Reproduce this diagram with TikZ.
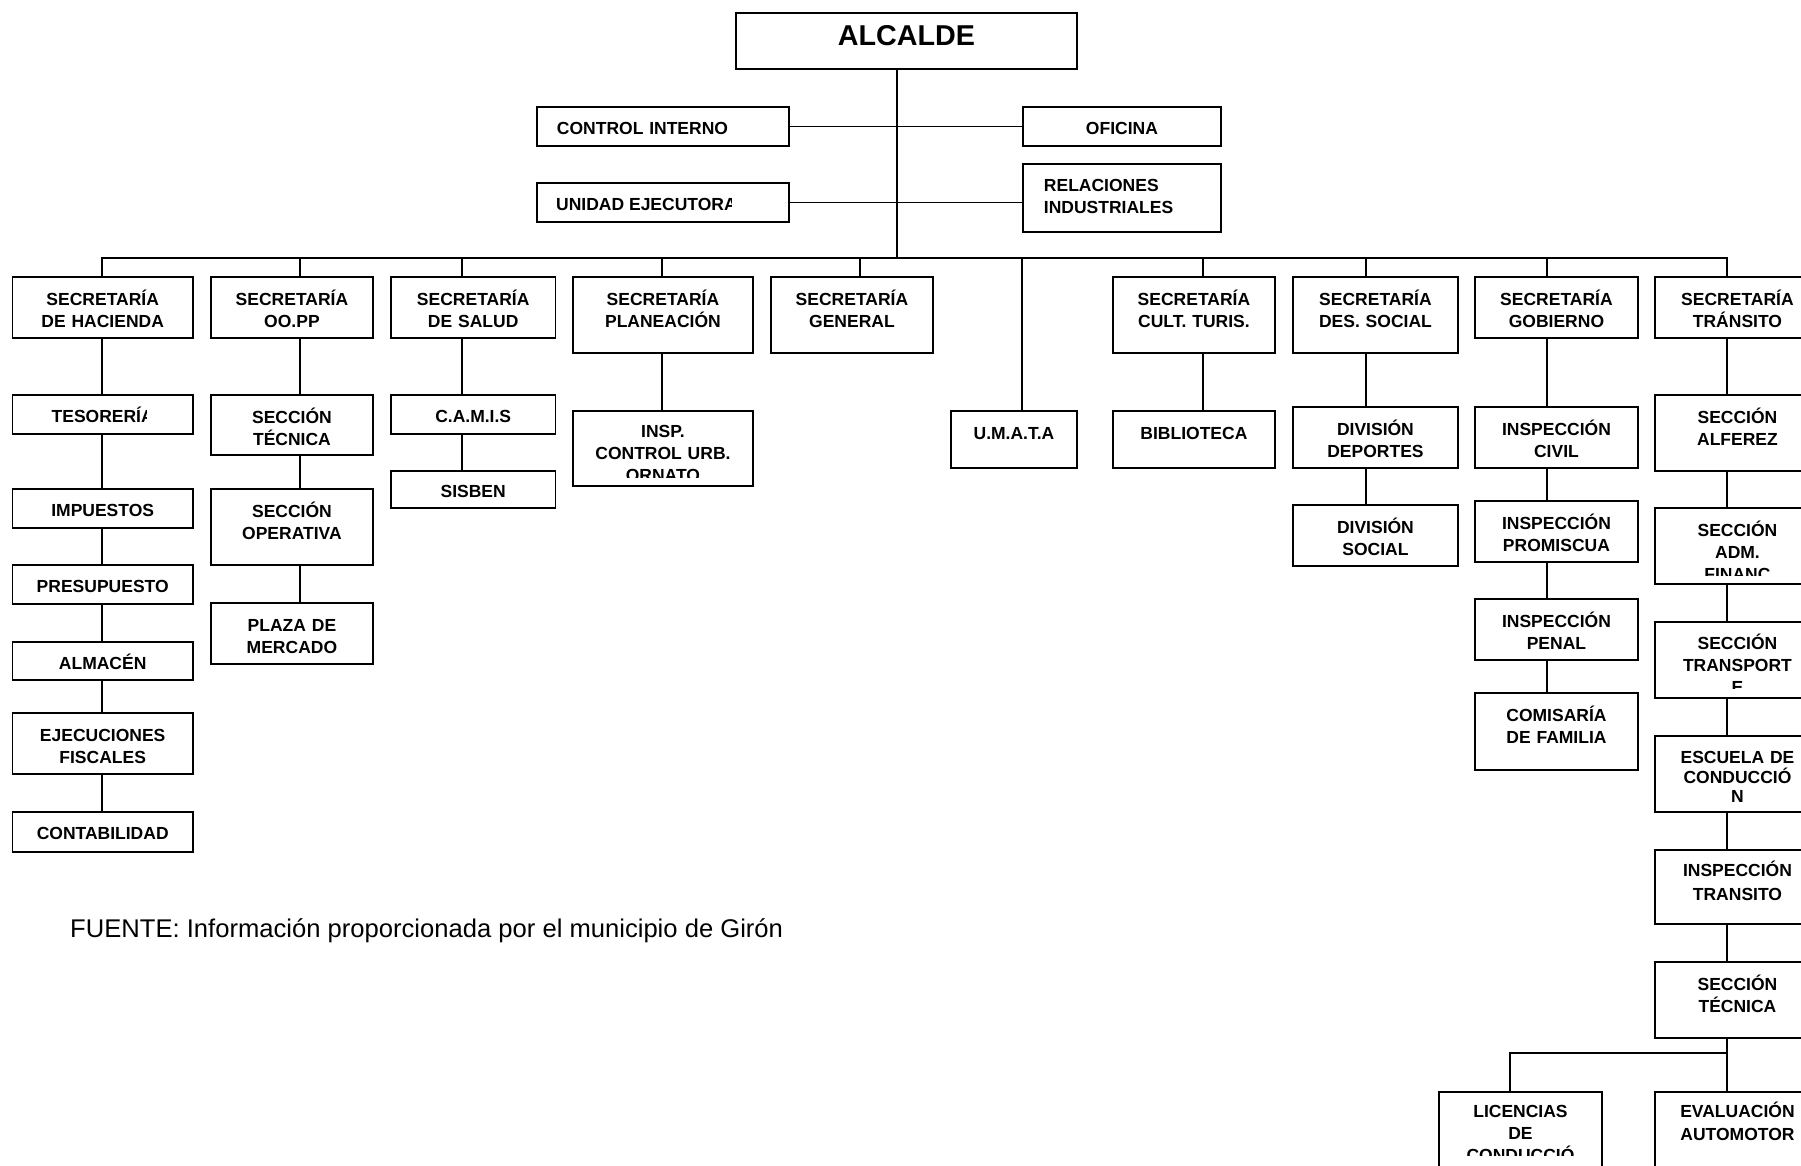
\documentclass[tikz,border=0pt]{standalone}
\usepackage{fontspec}
\setmainfont{Liberation Sans}
\usepackage{xcolor}
\usepackage{tikz}
\definecolor{orgInk}{HTML}{000000}
\definecolor{orgPaper}{HTML}{FFFFFF}
\tikzset{
  org box/.style={draw=orgInk,line width=1.9pt,fill=orgPaper,anchor=north west,inner sep=0pt,
    align=center,text height=29pt,font=\fontsize{17.5}{22}\selectfont\bfseries},
  org text/.style={anchor=north,inner sep=0pt,align=center,text height=29pt,
    font=\fontsize{17.5}{22}\selectfont\bfseries},
  org line/.style={draw=orgInk,line width=1.6pt}
}

\begin{document}
\begin{tikzpicture}[x=1pt,y=-1pt]
\path[use as bounding box,fill=orgPaper] (0,0) rectangle (1801,1166);
% alcalde and staff offices
\node[org box,text width=341pt,text height=33pt,text depth=23pt,font=\fontsize{28.7}{32}\selectfont\bfseries] (alcalde) at (735,12) {ALCALDE};
\node[org box,align=left,inner xsep=20pt,text width=212pt,text height=28pt,text depth=11pt] (control) at (536,106) {CONTROL INTERNO};
\node[org box,text width=252pt,text height=28pt,text depth=11pt] (unidad) at (536,182) {};
\begin{scope} \clip (unidad.north west) rectangle (731,221);
  \node[org text,anchor=north west,align=left,text height=28pt] (unidad text) at (556,182) {UNIDAD EJECUTORA}; \end{scope}
\node[org box,text width=198pt,text height=28pt,text depth=11pt] (oficina) at (1022,106) {OFICINA};
\node[org box,align=left,inner xsep=21pt,text width=156pt,text height=28pt,text depth=40pt] (relaciones) at (1022,163) {RELACIONES\\INDUSTRIALES};
% secretarias
\node[org box,text width=180.5pt,text depth=32pt] (hacienda) at (11.5,276) {SECRETARÍA\\DE HACIENDA};
\node[org box,text width=162pt,text depth=32pt] (obras) at (210,276) {SECRETARÍA\\OO.PP};
\node[org box,text width=164.5pt,text depth=32pt] (salud) at (390,276) {SECRETARÍA\\DE SALUD};
\node[org box,text width=180pt,text depth=47pt] (planeacion) at (572,276) {SECRETARÍA\\PLANEACIÓN};
\node[org box,text width=162pt,text depth=47pt] (general) at (770,276) {SECRETARÍA\\GENERAL};
\node[org box,text width=162pt,text depth=47pt] (cultura) at (1112,276) {SECRETARÍA\\CULT. TURIS.};
\node[org box,text width=165pt,text depth=47pt] (desarrollo) at (1292,276) {SECRETARÍA\\DES. SOCIAL};
\node[org box,text width=163pt,text depth=32pt] (gobierno) at (1474,276) {SECRETARÍA\\GOBIERNO};
\node[org box,text width=165pt,text depth=32pt] (transito) at (1654,276) {SECRETARÍA\\TRÁNSITO};
% hacienda
\node[org box,text width=180.5pt,text height=28pt,text depth=11pt] (tesoreria) at (11.5,394) {};
\begin{scope} \clip (tesoreria.north west) rectangle (146,433);
  \node[org text,text width=180.5pt,text height=28pt] (tesoreria text) at (tesoreria.north) {TESORERÍA}; \end{scope}
\node[org box,text width=180.5pt,text height=28pt,text depth=11pt] (impuestos) at (11.5,488) {IMPUESTOS};
\node[org box,text width=180.5pt,text height=28pt,text depth=11pt] (presupuesto) at (11.5,564) {PRESUPUESTO};
\node[org box,text width=180.5pt,text height=28pt,text depth=10pt] (almacen) at (11.5,641) {ALMACÉN};
\node[org box,text width=180.5pt,text depth=32pt] (ejecuciones) at (11.5,712) {EJECUCIONES\\FISCALES};
\node[org box,text width=180.5pt,text height=28pt,text depth=12pt] (contabilidad) at (11.5,811) {CONTABILIDAD};
% obras publicas
\node[org box,text width=162pt,text depth=31pt] (tecnica) at (210,394) {SECCIÓN\\TÉCNICA};
\node[org box,text width=162pt,text depth=47pt] (operativa) at (210,488) {SECCIÓN\\OPERATIVA};
\node[org box,text width=162pt,text depth=32pt] (plaza) at (210,602) {PLAZA DE\\MERCADO};
% salud
\node[org box,text width=164.5pt,text height=28pt,text depth=11pt] (camis) at (390,394) {C.A.M.I.S};
\node[org box,text width=164.5pt,text height=27pt,text depth=10pt] (sisben) at (390,470) {SISBEN};
% planeacion
\node[org box,text width=180pt,text height=27pt,text depth=48pt] (ornato) at (572,410) {};
\begin{scope} \clip (ornato.north west) rectangle (752,477);
  \node[org text,text width=180pt,text height=27pt] (ornato text) at (ornato.north) {INSP.\\CONTROL URB.\\ORNATO}; \end{scope}
% umata and cultura
\node[org box,text width=126pt,text depth=28pt] (umata) at (950,410) {U.M.A.T.A};
\node[org box,text width=162pt,text depth=28pt] (biblioteca) at (1112,410) {BIBLIOTECA};
% desarrollo social
\node[org box,text width=165pt,text depth=32pt] (deportes) at (1292,406) {DIVISIÓN\\DEPORTES};
\node[org box,text width=165pt,text depth=32pt] (divsocial) at (1292,504) {DIVISIÓN\\SOCIAL};
% gobierno
\node[org box,text width=163pt,text depth=32pt] (civil) at (1474,406) {INSPECCIÓN\\CIVIL};
\node[org box,text width=163pt,text depth=32pt] (promiscua) at (1474,500) {INSPECCIÓN\\PROMISCUA};
\node[org box,text width=163pt,text depth=32pt] (penal) at (1474,598) {INSPECCIÓN\\PENAL};
\node[org box,text width=163pt,text depth=48pt] (comisaria) at (1474,692) {COMISARÍA\\DE FAMILIA};
% transito
\node[org box,text width=165pt,text depth=47pt] (alferez) at (1654,394) {SECCIÓN\\ALFEREZ};
\node[org box,text width=165pt,text depth=47pt] (financiera) at (1654,507) {};
\begin{scope} \clip (financiera.north west) rectangle (1819,575);
  \node[org text,text width=165pt] (financiera text) at (financiera.north) {SECCIÓN\\ADM.\\FINANC}; \end{scope}
\node[org box,text width=165pt,text height=28pt,text depth=48pt] (transporte) at (1654,621) {};
\begin{scope} \clip (transporte.north west) rectangle (1819,688);
  \node[org text,text width=165pt,text height=28pt] (transporte text) at (transporte.north) {SECCIÓN\\TRANSPORT\\E}; \end{scope}
\node[org box,text width=165pt,text height=28pt,text depth=48pt,font=\fontsize{17.5}{19.5}\selectfont\bfseries] (escuela) at (1654,735) {ESCUELA DE\\CONDUCCIÓ\\N};
\node[org box,text width=165pt,text height=27pt,text depth=47pt,font=\fontsize{17.5}{24}\selectfont\bfseries] (inspeccion) at (1654,849) {INSPECCIÓN\\TRANSITO};
\node[org box,text width=165pt,text depth=47pt] (tecnicat) at (1654,961) {SECCIÓN\\TÉCNICA};
\node[org box,text width=163pt,text height=26pt,text depth=74pt] (licencias) at (1438,1091) {};
\begin{scope} \clip (licencias.north west) rectangle (1601,1155);
  \node[org text,text width=163pt,text height=26pt] (licencias text) at (licencias.north) {LICENCIAS\\DE\\CONDUCCIÓ}; \end{scope}
\node[org box,text width=165pt,text height=26pt,text depth=74pt,font=\fontsize{17.5}{23}\selectfont\bfseries] (evaluacion) at (1654,1091) {EVALUACIÓN\\AUTOMOTOR};
% source line
\node[anchor=base west,inner sep=0pt,font=\fontsize{25.6}{30}\selectfont] (fuente) at (70,937) {FUENTE: Información proporcionada por el municipio de Girón};
% connectors
\coordinate (bus) at (897,258);
\coordinate (c1) at (102,258); \coordinate (c2) at (300,258); \coordinate (c3) at (462,258);
\coordinate (c4) at (662,258); \coordinate (c5) at (860,258); \coordinate (c6) at (1022,258);
\coordinate (c7) at (1203,258); \coordinate (c8) at (1366,258); \coordinate (c9) at (1547,258);
\coordinate (c10) at (1727,258);
\coordinate (fork) at (1727,1053); \coordinate (fork end) at (1510,1053);
\draw[org line] (alcalde.south -| bus) -- (bus);
\draw[org line] (control.east) -- (oficina.west); \draw[org line] (unidad.east) -- (unidad.east -| relaciones.west);
\draw[org line] (c1 |- hacienda.north) -- (c1) -- (c10) -- (c10 |- transito.north);
\draw[org line] (c2) -- (c2 |- obras.north); \draw[org line] (c3) -- (c3 |- salud.north); \draw[org line] (c4) -- (c4 |- planeacion.north);
\draw[org line] (c5) -- (c5 |- general.north); \draw[org line] (c6) -- (c6 |- umata.north); \draw[org line] (c7) -- (c7 |- cultura.north);
\draw[org line] (c8) -- (c8 |- desarrollo.north); \draw[org line] (c9) -- (c9 |- gobierno.north);
\draw[org line] (c1 |- hacienda.south) -- (c1 |- tesoreria.north); \draw[org line] (c1 |- tesoreria.south) -- (c1 |- impuestos.north);
\draw[org line] (c1 |- impuestos.south) -- (c1 |- presupuesto.north); \draw[org line] (c1 |- presupuesto.south) -- (c1 |- almacen.north);
\draw[org line] (c1 |- almacen.south) -- (c1 |- ejecuciones.north); \draw[org line] (c1 |- ejecuciones.south) -- (c1 |- contabilidad.north);
\draw[org line] (c2 |- obras.south) -- (c2 |- tecnica.north); \draw[org line] (c2 |- tecnica.south) -- (c2 |- operativa.north);
\draw[org line] (c2 |- operativa.south) -- (c2 |- plaza.north);
\draw[org line] (c3 |- salud.south) -- (c3 |- camis.north); \draw[org line] (c3 |- camis.south) -- (c3 |- sisben.north);
\draw[org line] (c4 |- planeacion.south) -- (c4 |- ornato.north); \draw[org line] (c7 |- cultura.south) -- (c7 |- biblioteca.north);
\draw[org line] (c8 |- desarrollo.south) -- (c8 |- deportes.north); \draw[org line] (c8 |- deportes.south) -- (c8 |- divsocial.north);
\draw[org line] (c9 |- gobierno.south) -- (c9 |- civil.north); \draw[org line] (c9 |- civil.south) -- (c9 |- promiscua.north);
\draw[org line] (c9 |- promiscua.south) -- (c9 |- penal.north); \draw[org line] (c9 |- penal.south) -- (c9 |- comisaria.north);
\draw[org line] (c10 |- transito.south) -- (c10 |- alferez.north); \draw[org line] (c10 |- alferez.south) -- (c10 |- financiera.north);
\draw[org line] (c10 |- financiera.south) -- (c10 |- transporte.north); \draw[org line] (c10 |- transporte.south) -- (c10 |- escuela.north);
\draw[org line] (c10 |- escuela.south) -- (c10 |- inspeccion.north); \draw[org line] (c10 |- inspeccion.south) -- (c10 |- tecnicat.north);
\draw[org line] (c10 |- tecnicat.south) -- (c10 |- evaluacion.north); \draw[org line] (fork) -- (fork end) -- (fork end |- licencias.north);
\end{tikzpicture}
\end{document}
